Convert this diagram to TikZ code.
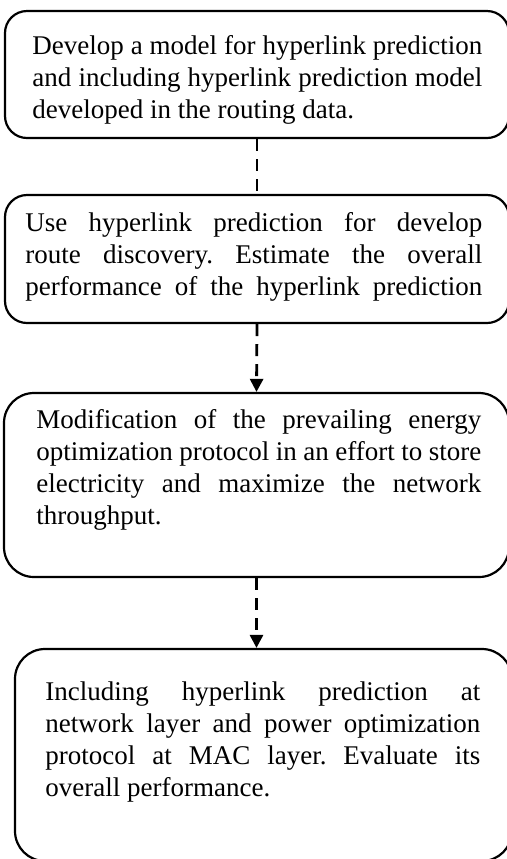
\documentclass[tikz,border=0pt]{standalone}
\usepackage{fontspec}
\setmainfont{Liberation Serif}
\frenchspacing
\usetikzlibrary{arrows.meta}

\begin{document}
\begin{tikzpicture}[x=0.5pt, y=-0.5pt,
  stage/.style={draw=black, line width=1.1pt, inner sep=0pt},
  words/.style={anchor=north west, inner sep=0pt, align=justify,
    font=\fontsize{13.5}{16}\selectfont},
  flow/.style={line width=1.4pt, dash pattern=on 6pt off 4pt},
  tip/.style={-{Triangle[width=6.5pt, length=6.5pt]}}]
\useasboundingbox (0,0) rectangle (507,859);
% boxes
\node[stage, rounded corners=11pt, minimum width=252pt, minimum height=63.5pt] (b1) at (257,74.5) {};
\node[stage, rounded corners=11pt, minimum width=252pt, minimum height=64pt] (b2) at (257,259) {};
\node[stage, rounded corners=15pt, minimum width=252.5pt, minimum height=92pt] (b3) at (256.5,485) {};
\node[stage, rounded corners=15pt, minimum width=248.5pt, minimum height=106pt] (b4) at (263.5,755) {};
% texts
\node[words, text width=225pt] (t1) at (32,35) {\tolerance=10000
  Develop a model for hyperlink prediction\linebreak
  and including hyperlink prediction model\linebreak
  developed in the routing data.\par};
\node[words, text width=228.5pt] (t2) at (25,212.5) {\tolerance=10000 \parfillskip=0pt
  Use hyperlink prediction for develop\linebreak
  route discovery. Estimate the overall\linebreak
  performance of the hyperlink prediction\par};
\node[words, text width=222.5pt] (t3) at (36,409.5) {\tolerance=10000
  Modification of the prevailing energy\linebreak
  optimization protocol in an effort to store\linebreak
  electricity and maximize the network\linebreak
  throughput.\par};
\node[words, text width=217.5pt] (t4) at (45,681.5) {\tolerance=10000
  Including hyperlink prediction at\linebreak
  network layer and power optimization\linebreak
  protocol at MAC layer. Evaluate its\linebreak
  overall performance.\par};
% connectors
\path [flow, draw=black] (b1.south) edge (b2.north);
\path [flow, draw=black] (b2.south) edge[tip] (b3.north);
\path [flow, draw=black] (b3.south) edge[tip] (b3.south |- b4.north);
\end{tikzpicture}
\end{document}
